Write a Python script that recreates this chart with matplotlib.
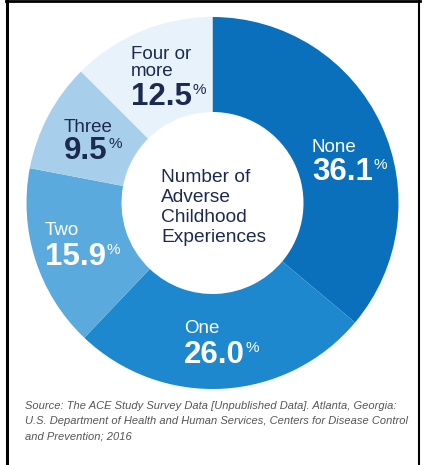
import matplotlib
matplotlib.use("Agg")
import matplotlib.pyplot as plt
from matplotlib.lines import Line2D

# ---- data ----
categories = ["None", "One", "Two", "Three", "Four or\nmore"]
values = [36.1, 26.0, 15.9, 9.5, 12.5]
value_labels = ["36.1", "26.0", "15.9", "9.5", "12.5"]
colors = ["#0b70bb", "#1d88cd", "#5aaadd", "#a7cfec", "#e7f2fa"]
text_colors = ["white", "white", "white", "#1b2a4e", "#1b2a4e"]
center_title = ["Number of", "Adverse", "Childhood", "Experiences"]
source_lines = [
    "Source: The ACE Study Survey Data [Unpublished Data]. Atlanta, Georgia:",
    "U.S. Department of Health and Human Services, Centers for Disease Control",
    "and Prevention; 2016",
]

W, H = 425, 465
plt.rcParams['font.family'] = ['Liberation Sans', 'DejaVu Sans']
fig = plt.figure(figsize=(W / 100, H / 100), dpi=100)
ax = fig.add_axes([0, 0, 1, 1])

cx, cy = 212.5, H - 203
R_out, R_in = 186, 91
ax.pie(values, colors=colors, startangle=90, counterclock=False,
       radius=R_out, center=(cx, cy),
       wedgeprops=dict(width=R_out - R_in, linewidth=0))
ax.set_xlim(0, W)
ax.set_ylim(0, H)
ax.set_aspect('equal')
ax.axis('off')

def Y(y):
    return H - y

# label positions (left x, label baseline(s), number baseline) in pixel coords from top
label_pos = {
    "None": (312, [152], 180),
    "One": (184, [333], 363),
    "Two": (45, [235], 265),
    "Three": (64, [132], 159),
    "Four or\nmore": (131, [59, 76], 105),
}

fs_lab, fs_num, fs_pct = 13.5, 22.5, 11.0
fig.canvas.draw()
renderer = fig.canvas.get_renderer()
for cat, vl, tc in zip(categories, value_labels, text_colors):
    x, lab_bases, num_base = label_pos[cat]
    for line, b in zip(cat.split("\n"), lab_bases):
        ax.text(x, Y(b), line, fontsize=fs_lab, color=tc, ha='left', va='baseline')
    t = ax.text(x, Y(num_base), vl, fontsize=fs_num, fontweight='bold', color=tc,
                ha='left', va='baseline')
    bb = t.get_window_extent(renderer)
    cap = 0.716
    off = cap * (fs_num - fs_pct) * 100 / 72
    ax.text(bb.x1 + 0.5, Y(num_base) + off, "%", fontsize=fs_pct, color=tc,
            ha='left', va='baseline')

for i, line in enumerate(center_title):
    ax.text(161, Y(182 + 20 * i), line, fontsize=13.8, color="#1b2a4e",
            ha='left', va='baseline')

for i, line in enumerate(source_lines):
    ax.text(25, Y(409 + 15 * i), line, fontsize=8.0, style='italic',
            color="#555555", ha='left', va='baseline')

# frame lines
ax.add_line(Line2D([7, 7], [0, H], color='black', lw=2.2))
ax.add_line(Line2D([6, 420], [H - 1, H - 1], color='black', lw=2.0))
ax.add_line(Line2D([419, 419], [0, H], color='black', lw=1.5))

fig.savefig("out.png", dpi=100)
